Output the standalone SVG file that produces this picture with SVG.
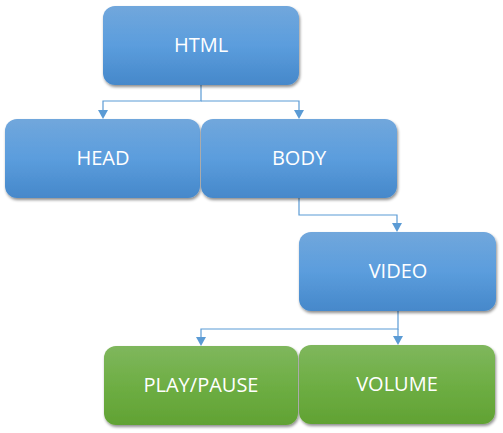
<svg xmlns="http://www.w3.org/2000/svg" width="503" height="433" viewBox="0 0 503 433">
<defs>
<linearGradient id="gb" x1="0" y1="0" x2="0" y2="1">
<stop offset="0" stop-color="#71a7dc"/>
<stop offset="0.5" stop-color="#5b9ddd"/>
<stop offset="1" stop-color="#4688ca"/>
</linearGradient>
<linearGradient id="gg" x1="0" y1="0" x2="0" y2="1">
<stop offset="0" stop-color="#7fb75d"/>
<stop offset="0.5" stop-color="#6eae44"/>
<stop offset="1" stop-color="#61a233"/>
</linearGradient>
<filter id="sh" x="-10%" y="-10%" width="125%" height="130%">
<feGaussianBlur in="SourceAlpha" stdDeviation="1.5"/>
<feOffset dx="1" dy="2" result="b"/>
<feComponentTransfer><feFuncA type="linear" slope="0.45"/></feComponentTransfer>
<feMerge><feMergeNode/><feMergeNode in="SourceGraphic"/></feMerge>
</filter>
</defs>
<style>
.b{fill:url(#gb);filter:url(#sh)}
.g{fill:url(#gg);filter:url(#sh)}
.t{font-family:"Open Sans","Noto Sans",sans-serif;font-size:20px;fill:#ffffff;text-anchor:middle;dominant-baseline:central}
.c{fill:none;stroke:#5b9bd5;stroke-width:1.2}
.a{fill:#5b9bd5}
</style>
<g id="connectors">
<path class="c" d="M201,85 V101 H103 V111" />
<path class="c" d="M201,101 H299 V111" />
<path class="c" d="M299,198 V215 H397 V224" />
<path class="c" d="M398,311 V329 H201 V338" />
<path class="c" d="M398,329 V337" />
<path class="a" d="M98,110 L108,110 L103,119 Z"/>
<path class="a" d="M294,110 L304,110 L299,119 Z"/>
<path class="a" d="M392,223 L402,223 L397,232 Z"/>
<path class="a" d="M196,337 L206,337 L201,346 Z"/>
<path class="a" d="M393,336 L403,336 L398,345 Z"/>
</g>
<g id="html"><rect class="b" x="103" y="6" width="196" height="79" rx="12"/><text class="t" x="201" y="44">HTML</text></g>
<g id="head"><rect class="b" x="5" y="119" width="195" height="79" rx="12"/><text class="t" x="103" y="157">HEAD</text></g>
<g id="body"><rect class="b" x="201" y="119" width="196" height="79" rx="12"/><text class="t" x="299" y="157">BODY</text></g>
<g id="video"><rect class="b" x="299" y="232" width="197" height="79" rx="12"/><text class="t" x="398" y="270">VIDEO</text></g>
<g id="playpause"><rect class="g" x="104" y="346" width="194" height="79" rx="12"/><text class="t" x="201" y="384">PLAY/PAUSE</text></g>
<g id="volume"><rect class="g" x="299" y="345" width="196" height="79" rx="12"/><text class="t" x="397" y="383">VOLUME</text></g>
</svg>
